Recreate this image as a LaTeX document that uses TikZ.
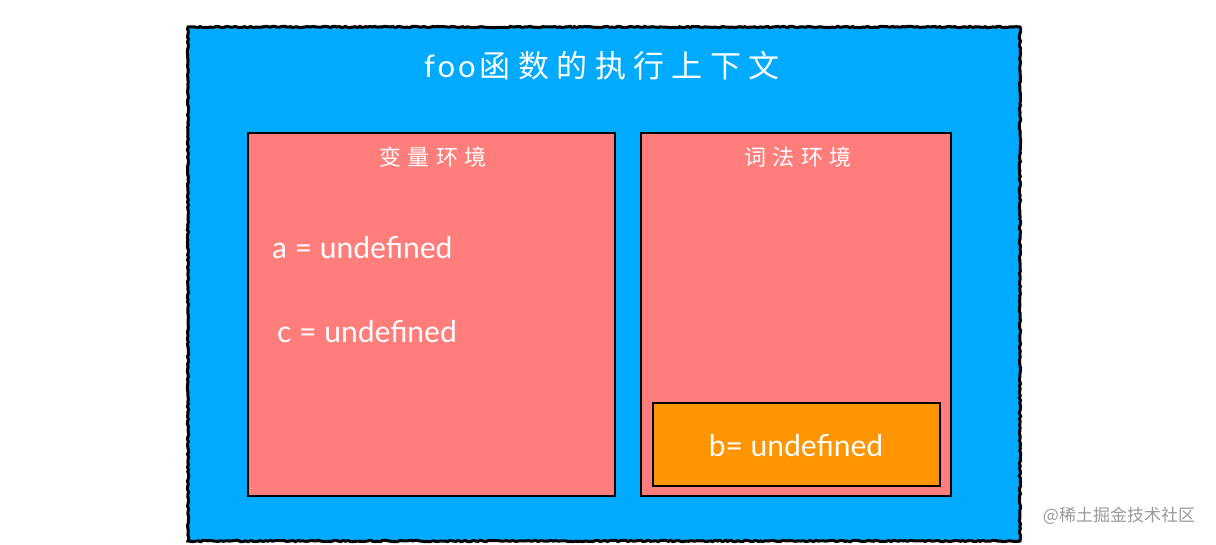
\documentclass[tikz,border=0pt]{standalone}
\usepackage{fontspec}
\setmainfont{Lato}
\newfontfamily\cjk{Noto Sans CJK SC}
\newfontfamily\cjkwide[LetterSpace=24]{Noto Sans CJK SC}
\newfontfamily\cjklab[LetterSpace=30]{Noto Sans CJK SC}
\newfontfamily\latwide[LetterSpace=10]{Lato}
\usetikzlibrary{decorations.pathmorphing}
\definecolor{outerblue}{HTML}{00AAFF}
\definecolor{envpink}{HTML}{FF7D7B}
\definecolor{boxorange}{HTML}{FF9500}
\definecolor{marktext}{HTML}{9A9A9A}
\tikzset{
  roughframe/.style={draw=black, line width=3pt, fill=outerblue,
    decorate, decoration={random steps, segment length=2.5pt, amplitude=0.7pt}},
  envbox/.style={draw=black, line width=2.4pt, fill=envpink},
  valbox/.style={draw=black, line width=2.4pt, fill=boxorange},
  wtext/.style={text=white, inner sep=0pt},
}
\begin{document}
\begin{tikzpicture}[x=1pt,y=-1pt]
\useasboundingbox (0,0) rectangle (1216,544);
\fill[white] (0,0) rectangle (1216,544);
% outer frame
\path[roughframe] (188,27) rectangle (1020,541);
\node[wtext, font={\fontsize{31}{33}\selectfont}] (title) at (602,66)
  {{\latwide foo}\hspace{4pt}\cjkwide 函数的执行上下文};
% left env
\draw[envbox] (248,133) rectangle (615,496);
\node[wtext, font={\fontsize{22}{24}\selectfont\cjklab}] (varlabel) at (433,157) {变量环境};
\node[wtext, anchor=west, font={\fontsize{30}{32}\selectfont}] (aval) at (272,248) {a = undefined};
\node[wtext, anchor=west, font={\fontsize{30}{32}\selectfont}] (cval) at (277,332) {c = undefined};
% right env
\draw[envbox] (641,133) rectangle (951,496);
\node[wtext, font={\fontsize{22}{24}\selectfont\cjklab}] (lexlabel) at (798,157) {词法环境};
\draw[valbox] (653,403) rectangle (940,486);
\node[wtext, font={\fontsize{30}{32}\selectfont}] (bval) at (796,446) {b= undefined};
% watermark
\node[text=marktext, inner sep=0pt, font={\fontsize{17}{19}\selectfont\cjk}] (mark) at (1119,516) {@稀土掘金技术社区};
\end{tikzpicture}
\end{document}
